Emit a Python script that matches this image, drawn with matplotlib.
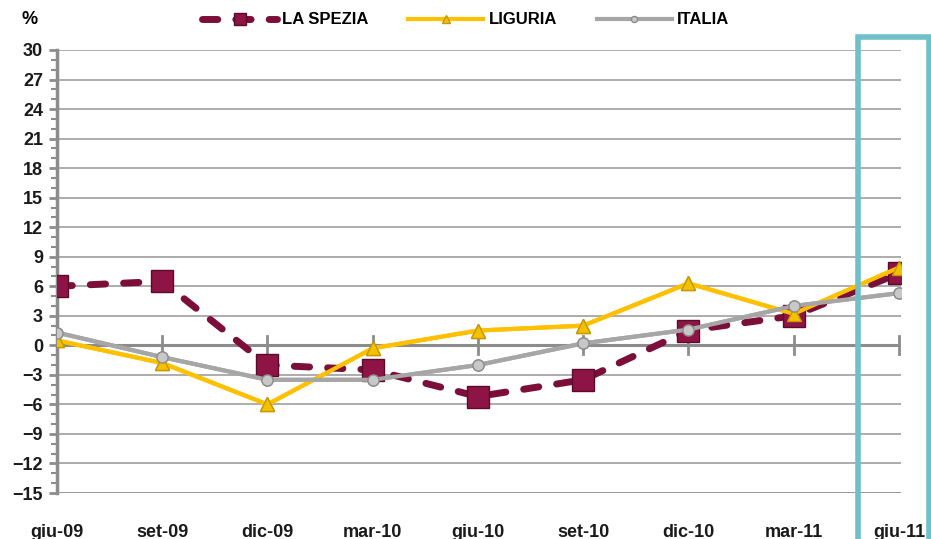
import matplotlib.pyplot as plt
from matplotlib.patches import Rectangle
from matplotlib.ticker import MultipleLocator

# dati
mesi = ["giu-09", "set-09", "dic-09", "mar-10", "giu-10", "set-10", "dic-10", "mar-11", "giu-11"]
la_spezia = [6.0, 6.5, -2.0, -2.5, -5.2, -3.5, 1.5, 3.0, 7.3]
liguria = [0.5, -1.8, -6.0, -0.3, 1.5, 2.0, 6.3, 3.2, 7.9]
italia = [1.3, -1.2, -3.5, -3.5, -2.0, 0.2, 1.6, 4.0, 5.3]

plt.rcParams['font.family'] = ['Liberation Sans', 'DejaVu Sans']

fig = plt.figure(figsize=(9.31, 5.39), dpi=100)
ax = fig.add_axes([57/931, 1-493/539, (901-57)/931, (493-50)/539])

x = list(range(len(mesi)))

# griglia orizzontale
for v in range(-12, 31, 3):
    ax.axhline(v, color="#a6a6a6", lw=1.3, zorder=1)
ax.axhline(-15, color="#8c8c8c", lw=2, zorder=1)
ax.axhline(0, color="#8c8c8c", lw=2.2, zorder=1)
for xi in x:
    ax.plot([xi, xi], [-0.9, 0.9], color="#8c8c8c", lw=2, zorder=1)

ax.plot(x, italia, color="#a6a6a6", lw=3, marker="o", ms=8,
        mfc="#c8c8c8", mec="#8c8c8c", label="ITALIA", zorder=3)
ax.plot(x, liguria, color="#ffc000", lw=3, marker="^", ms=10,
        mfc="#f2c200", mec="#c89600", label="LIGURIA", zorder=4)
ax.plot(x, la_spezia, color="#7b0f3a", lw=5, ls=(0, (2.2, 2.6)), dash_capstyle="round",
        marker="s", ms=16, mfc="#8e1445", mec="#5c0a2b", label="LA SPEZIA", zorder=5)
# ridisegno liguria/italia sopra dove serve
ax.plot(x, liguria, color="#ffc000", lw=3, marker="^", ms=10,
        mfc="#f2c200", mec="#c89600", zorder=6)
ax.plot(x, italia, color="#a6a6a6", lw=3, marker="o", ms=8,
        mfc="#c8c8c8", mec="#8c8c8c", zorder=6)

ax.set_xlim(0, 8.02)
ax.set_ylim(-15, 30)
ax.set_yticks(range(-15, 31, 3))
ax.yaxis.set_minor_locator(MultipleLocator(1))
ax.set_xticks(x)
ax.set_xticklabels(mesi)

for s in ["top", "right", "bottom"]:
    ax.spines[s].set_visible(False)
ax.spines["left"].set_color("#8c8c8c")
ax.spines["left"].set_linewidth(2.5)
ax.tick_params(axis="y", which="major", length=6, width=2, color="#8c8c8c",
               labelsize=13, pad=4)
ax.tick_params(axis="y", which="minor", length=4, width=1.5, color="#8c8c8c")
ax.tick_params(axis="x", length=0, labelsize=13, pad=22)
for lab in ax.get_yticklabels() + ax.get_xticklabels():
    lab.set_fontweight("bold")
    lab.set_color("#1a1a1a")

fig.text(22/931, 1-20/539, "%", fontsize=13, fontweight="bold", va="center", ha="left")

# riquadro evidenziato
rect = Rectangle((858/931, -0.05), (929-858)/931, 1-37/539 + 0.05, transform=fig.transFigure,
                 fill=False, ec="#6fc0c8", lw=4, zorder=10, clip_on=False)
fig.add_artist(rect)

handles, labels = ax.get_legend_handles_labels()
order = [2, 1, 0]
leg = fig.legend([handles[i] for i in order], [labels[i] for i in order],
                 loc="center", bbox_to_anchor=(0.5, 1-20/539), ncol=3, frameon=False,
                 fontsize=12, handlelength=4.5, columnspacing=2.4, markerscale=0.55,
                 handletextpad=0.3)
for t in leg.get_texts():
    t.set_fontweight("bold")

fig.savefig("out.png", dpi=100)
